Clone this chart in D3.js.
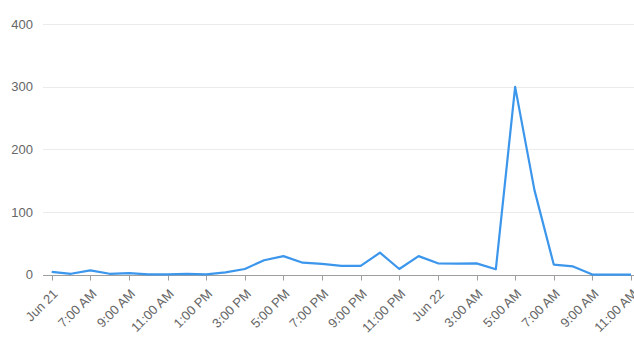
<!DOCTYPE html>
<html>
<head>
<meta charset="utf-8">
<script src="https://cdn.jsdelivr.net/npm/d3@7"></script>
<style>
  html, body { margin: 0; padding: 0; background: #fff; }
  svg { display: block; }
  text { font-family: "Liberation Sans", Arial, sans-serif; }
</style>
</head>
<body>
<svg id="chart" width="634" height="343"></svg>
<script>
// Hourly values, Jun 21 05:00 -> Jun 22 11:00
const startTime = "2023-06-21T05:00:00Z";
const values = [
  4.5, 1.3, 6.7, 1.3, 2.4, 0.5, 0.5, 1, 0.5, 3.5,
  9, 23, 29.5, 19, 17, 14, 14, 35, 9, 29.5,
  18, 17.5, 18, 8.5, 300, 135, 16, 13, 0, 0, 0
];
const yTicks = [0, 100, 200, 300, 400];
const xTickLabels = [
  "Jun 21", "7:00 AM", "9:00 AM", "11:00 AM", "1:00 PM", "3:00 PM", "5:00 PM",
  "7:00 PM", "9:00 PM", "11:00 PM", "Jun 22", "3:00 AM", "5:00 AM", "7:00 AM",
  "9:00 AM", "11:00 AM"
];

const t0 = new Date(startTime);
const data = values.map((v, i) => ({ t: new Date(t0.getTime() + i * 3600e3), v }));
const tickDates = xTickLabels.map((_, i) => new Date(t0.getTime() + i * 2 * 3600e3));

const svg = d3.select("#chart");
const x = d3.scaleUtc().domain([data[0].t, data[data.length - 1].t]).range([51.7, 631]);
const y = d3.scaleLinear().domain([0, 400]).range([274.6, 24.3]);

// gridlines
svg.append("g").selectAll("line").data(yTicks.filter(d => d > 0)).join("line")
  .attr("x1", 43).attr("x2", 634)
  .attr("y1", d => Math.round(y(d)) + 0.5).attr("y2", d => Math.round(y(d)) + 0.5)
  .attr("stroke", "#ebebeb").attr("stroke-width", 1);

// y labels
svg.append("g").selectAll("text").data(yTicks).join("text")
  .attr("x", 33).attr("y", d => y(d)).attr("dy", "0.35em")
  .attr("text-anchor", "end").attr("font-size", 13).attr("fill", "#666")
  .text(d => d);

// baseline
svg.append("line")
  .attr("x1", 43).attr("x2", 634)
  .attr("y1", Math.round(y(0)) + 0.5).attr("y2", Math.round(y(0)) + 0.5)
  .attr("stroke", "#9e9e9e").attr("stroke-width", 1);

// x ticks
svg.append("g").selectAll("line").data(tickDates).join("line")
  .attr("x1", d => Math.round(x(d)) + 0.5).attr("x2", d => Math.round(x(d)) + 0.5)
  .attr("y1", Math.round(y(0)) + 0.5).attr("y2", Math.round(y(0)) + 5.5)
  .attr("stroke", "#9e9e9e").attr("stroke-width", 1);

// x labels
svg.append("g").selectAll("text").data(tickDates).join("text")
  .attr("transform", d => `translate(${x(d) + 7},${y(0) + 20}) rotate(-45)`)
  .attr("text-anchor", "end").attr("font-size", 13).attr("fill", "#666")
  .text((d, i) => xTickLabels[i]);

// line
const line = d3.line().x(d => x(d.t)).y(d => y(d.v));
svg.append("path").datum(data)
  .attr("d", line)
  .attr("fill", "none").attr("stroke", "#3b96ec").attr("stroke-width", 2.2)
  .attr("stroke-linejoin", "round");
</script>
</body>
</html>
